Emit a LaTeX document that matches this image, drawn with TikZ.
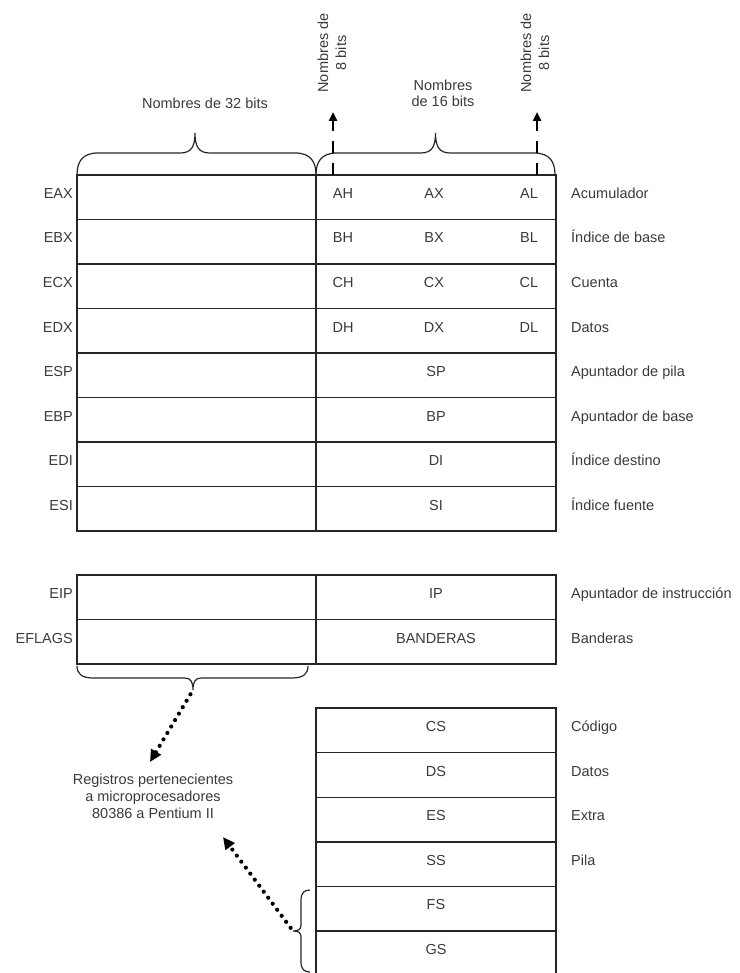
\documentclass[tikz,border=0pt]{standalone}
\usepackage{fontspec}
\setmainfont{Liberation Sans}
\usetikzlibrary{arrows.meta}
\definecolor{ink}{HTML}{262626}
\definecolor{txt}{HTML}{3A3A3A}
% #1 scope options, #2 length, #3 tip position, #4 end radius, #5 bar height, #6 tip height, #7 tip name
\newcommand{\regbrace}[7]{%
  \begin{scope}[#1]
    \draw[brc] (0,0) .. controls (0,{0.6*#5}) and ({0.25*#4},#5) .. (#4,#5)
      -- ({#3-0.35*#6},#5) .. controls ({#3-0.08*#6},#5) and (#3,{#5+0.35*(#6-#5)}) .. (#3,#6)
      .. controls (#3,{#5+0.35*(#6-#5)}) and ({#3+0.08*#6},#5) .. ({#3+0.35*#6},#5)
      -- ({#2-#4},#5) .. controls ({#2-0.25*#4},#5) and (#2,{0.6*#5}) .. (#2,0);
    \coordinate (#7) at (#3,#6);
  \end{scope}}
\begin{document}
\begin{tikzpicture}[x=1pt,y=-1pt,
  every node/.style={font=\fontsize{14.5}{16.5}\selectfont, text=txt, inner sep=0pt},
  lbl/.style={anchor=base east},
  rlbl/.style={anchor=base west},
  ctr/.style={anchor=base},
  reg/.style={draw=ink, line width=1.4pt},
  brc/.style={draw=ink, line width=1.2pt},
  dotarrow/.style={draw=black, line width=4.2pt, dash pattern=on 0pt off 7.5pt, line cap=round,
     -{Triangle[length=12pt,width=11pt]}},
  dasharrow/.style={draw=black, line width=2.6pt, dash pattern=on 12pt off 10pt,
     -{Triangle[length=9pt,width=8pt]}}
]
\useasboundingbox (0,0) rectangle (739,973);

% ---------------- general registers ----------------
\draw[reg] (77,175) rectangle (556,531);
\foreach \yy in {219.5,264,308.5,353,397.5,442,486.5} \draw[reg] (77,\yy) -- (556,\yy);
\draw[reg] (316,175) -- (316,531);

% ---------------- EIP / EFLAGS ----------------
\draw[reg] (77,575) rectangle (556,664);
\draw[reg] (77,619.5) -- (556,619.5);
\draw[reg] (316,575) -- (316,664);

% ---------------- segment registers ----------------
\draw[reg] (316,708) rectangle (556,975.6);
\foreach \yy in {752.6,797.2,841.8,886.4,931} \draw[reg] (316,\yy) -- (556,\yy);

% ---------------- braces ----------------
\regbrace{shift={(77,175)}, yscale=-1}{239}{118}{21}{22}{42}{b32}
\regbrace{shift={(316,175)}, yscale=-1}{239}{119.5}{21}{22}{42}{b16}
\regbrace{shift={(77,666)}}{231}{116}{16}{12}{24}{b386}
\regbrace{shift={(310,890)}, x={(0pt,-1pt)}, y={(-1pt,0pt)}}{82}{41}{10}{9}{17}{bfg}

% ---------------- top labels ----------------
\node[ctr] (t32) at (205,108.5) {Nombres de 32 bits};
\node[align=center] (t16) at (443,93.5) {Nombres\\de 16 bits};
\node[rotate=90, align=center, font=\fontsize{14.5}{18}\selectfont] (t8a) at (332,53) {Nombres de\\8 bits};
\node[rotate=90, align=center, font=\fontsize{14.5}{18}\selectfont] (t8b) at (535,53) {Nombres de\\8 bits};

\coordinate (h1s) at (333,175);
\coordinate (h1e) at (333,112);
\coordinate (h2s) at (537,175);
\coordinate (h2e) at (537,112);
\draw[dasharrow] (h1s) -- (h1e);
\draw[dasharrow] (h2s) -- (h2e);

% ---------------- row texts ----------------
\node[lbl] (eax) at (73,198.5) {EAX};
\node[lbl] (ebx) at (73,243) {EBX};
\node[lbl] (ecx) at (73,287.5) {ECX};
\node[lbl] (edx) at (73,332) {EDX};
\node[lbl] (esp) at (73,376.5) {ESP};
\node[lbl] (ebp) at (73,421) {EBP};
\node[lbl] (edi) at (73,465.5) {EDI};
\node[lbl] (esi) at (73,510) {ESI};
\node[lbl] (eip) at (73,598.5) {EIP};
\node[lbl] (efl) at (73,643) {EFLAGS};

\node[ctr] (ah) at (343,198.5) {AH};
\node[ctr] (ax) at (434,198.5) {AX};
\node[ctr] (al) at (529,198.5) {AL};
\node[ctr] (bh) at (343,243) {BH};
\node[ctr] (bx) at (434,243) {BX};
\node[ctr] (bl) at (529,243) {BL};
\node[ctr] (ch) at (343,287.5) {CH};
\node[ctr] (cx) at (434,287.5) {CX};
\node[ctr] (cl) at (529,287.5) {CL};
\node[ctr] (dh) at (343,332) {DH};
\node[ctr] (dx) at (434,332) {DX};
\node[ctr] (dl) at (529,332) {DL};
\node[ctr] (sp) at (436,376.5) {SP};
\node[ctr] (bp) at (436,421) {BP};
\node[ctr] (di) at (436,465.5) {DI};
\node[ctr] (si) at (436,510) {SI};
\node[ctr] (ip) at (436,598.5) {IP};
\node[ctr] (fl) at (436,643) {BANDERAS};

\node[ctr] (cs) at (436,731.5) {CS};
\node[ctr] (ds) at (436,776.1) {DS};
\node[ctr] (es) at (436,820.7) {ES};
\node[ctr] (ss) at (436,865.3) {SS};
\node[ctr] (fs) at (436,909.9) {FS};
\node[ctr] (gs) at (436,954.5) {GS};

\node[rlbl] (r1) at (571,198.5) {Acumulador};
\node[rlbl] (r2) at (571,243) {Índice de base};
\node[rlbl] (r3) at (571,287.5) {Cuenta};
\node[rlbl] (r4) at (571,332) {Datos};
\node[rlbl] (r5) at (571,376.5) {Apuntador de pila};
\node[rlbl] (r6) at (571,421) {Apuntador de base};
\node[rlbl] (r7) at (571,465.5) {Índice destino};
\node[rlbl] (r8) at (571,510) {Índice fuente};
\node[rlbl] (r9) at (571,598.5) {Apuntador de instrucción};
\node[rlbl] (r10) at (571,643) {Banderas};
\node[rlbl] (r11) at (571,731.5) {Código};
\node[rlbl] (r12) at (571,776.1) {Datos};
\node[rlbl] (r13) at (571,820.7) {Extra};
\node[rlbl] (r14) at (571,865.3) {Pila};

% ---------------- note and dotted arrows ----------------
\node[align=center, font=\fontsize{14.5}{17}\selectfont] (note) at (153,796)
  {Registros pertenecientes\\a microprocesadores\\80386 a Pentium II};
\coordinate (ar1) at (150,762);
\coordinate (ar2) at (223,837);
\draw[dotarrow, shorten <=5pt] (b386) -- (ar1);
\draw[dotarrow, shorten <=4pt] (bfg) -- (ar2);
\end{tikzpicture}
\end{document}
